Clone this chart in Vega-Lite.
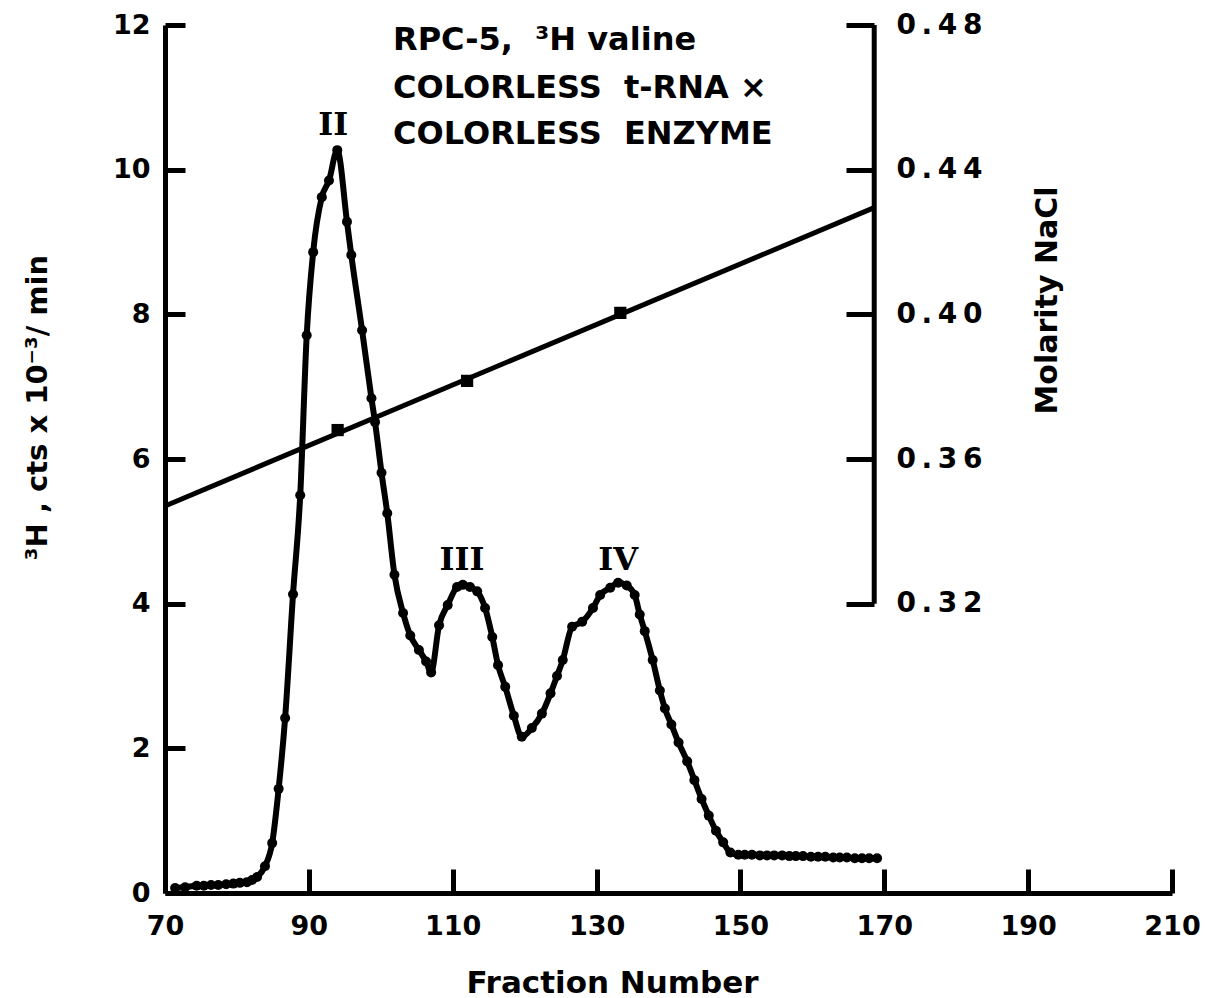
{
  "$schema": "https://vega.github.io/schema/vega-lite/v6.json",
  "width": 1007,
  "height": 868,
  "autosize": {"type": "none"},
  "padding": {"left": 165, "top": 25, "right": 33, "bottom": 105},
  "background": "white",
  "config": {
    "view": {"stroke": null},
    "axis": {
      "domainColor": "black", "domainWidth": 5, "tickColor": "black", "tickWidth": 5,
      "labelColor": "black", "labelFont": "DejaVu Sans", "labelFontWeight": "bold", "labelFontSize": 27,
      "titleColor": "black", "titleFont": "DejaVu Sans", "titleFontWeight": "bold", "titleFontSize": 30,
      "grid": false, "labelOverlap": false, "labelFlush": false
    }
  },
  "datasets": {
    "counts": [
      {"f": 71.4, "L": 0.07}, {"f": 72.8, "L": 0.08}, {"f": 74.4, "L": 0.1}, {"f": 75.4, "L": 0.1},
      {"f": 76.4, "L": 0.11}, {"f": 77.4, "L": 0.11}, {"f": 78.5, "L": 0.12}, {"f": 79.5, "L": 0.13},
      {"f": 80.4, "L": 0.14}, {"f": 81.4, "L": 0.15}, {"f": 82.1, "L": 0.18}, {"f": 82.8, "L": 0.22},
      {"f": 83.9, "L": 0.37}, {"f": 84.9, "L": 0.69}, {"f": 85.8, "L": 1.44}, {"f": 86.7, "L": 2.42},
      {"f": 87.8, "L": 4.13}, {"f": 88.8, "L": 5.5}, {"f": 89.7, "L": 7.71}, {"f": 90.6, "L": 8.86},
      {"f": 91.8, "L": 9.62}, {"f": 92.8, "L": 9.85}, {"f": 93.95, "L": 10.27}, {"f": 95.3, "L": 9.28},
      {"f": 95.9, "L": 8.82}, {"f": 97.4, "L": 7.78}, {"f": 98.7, "L": 6.84}, {"f": 99.2, "L": 6.51},
      {"f": 100.1, "L": 5.81}, {"f": 100.9, "L": 5.25}, {"f": 101.9, "L": 4.4}, {"f": 103.1, "L": 3.87},
      {"f": 104.1, "L": 3.56}, {"f": 105.3, "L": 3.36}, {"f": 106.3, "L": 3.2}, {"f": 107.0, "L": 3.05},
      {"f": 108.1, "L": 3.7}, {"f": 109.3, "L": 3.98}, {"f": 110.6, "L": 4.23}, {"f": 111.4, "L": 4.26},
      {"f": 112.4, "L": 4.23}, {"f": 113.4, "L": 4.17}, {"f": 114.5, "L": 3.94}, {"f": 115.5, "L": 3.54},
      {"f": 116.3, "L": 3.15}, {"f": 117.3, "L": 2.85}, {"f": 118.5, "L": 2.45}, {"f": 119.6, "L": 2.16},
      {"f": 121.0, "L": 2.28}, {"f": 122.4, "L": 2.48}, {"f": 123.6, "L": 2.76}, {"f": 124.5, "L": 3.0},
      {"f": 125.3, "L": 3.22}, {"f": 126.6, "L": 3.68}, {"f": 128.0, "L": 3.75}, {"f": 129.5, "L": 3.94},
      {"f": 130.5, "L": 4.12}, {"f": 131.9, "L": 4.22}, {"f": 133.0, "L": 4.29}, {"f": 134.2, "L": 4.25},
      {"f": 135.3, "L": 4.12}, {"f": 136.0, "L": 3.85}, {"f": 136.7, "L": 3.62}, {"f": 137.8, "L": 3.22},
      {"f": 138.8, "L": 2.8}, {"f": 139.5, "L": 2.55}, {"f": 140.4, "L": 2.33}, {"f": 141.4, "L": 2.08},
      {"f": 142.6, "L": 1.82}, {"f": 143.6, "L": 1.56}, {"f": 144.6, "L": 1.3}, {"f": 145.6, "L": 1.07},
      {"f": 146.6, "L": 0.86}, {"f": 147.6, "L": 0.7}, {"f": 148.6, "L": 0.56},
      {"f": 149.7, "L": 0.53}, {"f": 150.6, "L": 0.53}, {"f": 151.6, "L": 0.53}, {"f": 152.7, "L": 0.52},
      {"f": 153.7, "L": 0.52}, {"f": 154.7, "L": 0.52}, {"f": 155.8, "L": 0.52}, {"f": 156.8, "L": 0.51},
      {"f": 157.7, "L": 0.51}, {"f": 158.7, "L": 0.51}, {"f": 159.8, "L": 0.5}, {"f": 160.8, "L": 0.5},
      {"f": 161.8, "L": 0.5}, {"f": 162.9, "L": 0.49}, {"f": 163.8, "L": 0.49}, {"f": 164.8, "L": 0.49},
      {"f": 165.9, "L": 0.48}, {"f": 166.9, "L": 0.48}, {"f": 167.9, "L": 0.48}, {"f": 169.0, "L": 0.48}
    ],
    "molarity": [{"f": 70, "M": 0.347}, {"f": 168.6, "M": 0.4295}],
    "markers": [{"f": 94, "M": 0.368}, {"f": 112, "M": 0.3816}, {"f": 133.3, "M": 0.4004}],
    "naclAxis": [{"f": 168.6, "M": 0.32, "M2": 0.48}],
    "notes": [
      {"f": 101.7, "L": 11.79, "t": "RPC-5,\u00a0\u00a0³H valine"},
      {"f": 101.7, "L": 11.13, "t": "COLORLESS\u00a0\u00a0t-RNA ×"},
      {"f": 101.7, "L": 10.49, "t": "COLORLESS\u00a0\u00a0ENZYME"}
    ],
    "peaks": [
      {"f": 93.4, "L": 10.62, "t": "II"},
      {"f": 111.3, "L": 4.6, "t": "III"},
      {"f": 133.0, "L": 4.6, "t": "IV"}
    ]
  },
  "layer": [
    {
      "layer": [
        {
          "data": {"name": "counts"},
          "mark": {"type": "line", "interpolate": "monotone", "color": "black", "strokeWidth": 6},
          "encoding": {
            "x": {"field": "f", "type": "quantitative", "scale": {"domain": [70, 210], "nice": false, "zero": false},
              "axis": {"values": [70, 90, 110, 130, 150, 170, 190, 210], "tickSize": -24, "labelPadding": 44,
                "title": "Fraction Number", "titleX": 447, "titleY": 99, "titleBaseline": "alphabetic", "titleAlign": "center", "titleFontSize": 31}},
            "y": {"field": "L", "type": "quantitative", "scale": {"domain": [0, 12], "nice": false},
              "axis": {"orient": "left", "values": [0, 2, 4, 6, 8, 10, 12], "format": "d", "tickSize": -20, "labelPadding": 35,
                "title": "³H , cts x 10⁻³/ min", "titleAngle": -90, "titleX": -128, "titleY": 382,
                "titleAlign": "center", "titleBaseline": "middle", "titleFontSize": 29}}
          }
        },
        {
          "data": {"name": "counts"},
          "mark": {"type": "circle", "color": "black", "opacity": 1, "size": 100},
          "encoding": {"x": {"field": "f", "type": "quantitative"}, "y": {"field": "L", "type": "quantitative"}}
        },
        {
          "data": {"name": "notes"},
          "mark": {"type": "text", "align": "left", "baseline": "middle", "font": "DejaVu Sans", "fontWeight": "bold", "fontSize": 32, "color": "black"},
          "encoding": {"x": {"field": "f", "type": "quantitative"}, "y": {"field": "L", "type": "quantitative"}, "text": {"field": "t"}}
        },
        {
          "data": {"name": "peaks"},
          "mark": {"type": "text", "align": "center", "baseline": "middle", "font": "DejaVu Serif", "fontWeight": "bold", "fontSize": 32, "color": "black"},
          "encoding": {"x": {"field": "f", "type": "quantitative"}, "y": {"field": "L", "type": "quantitative"}, "text": {"field": "t"}}
        }
      ]
    },
    {
      "layer": [
        {
          "data": {"name": "molarity"},
          "mark": {"type": "line", "color": "black", "strokeWidth": 5},
          "encoding": {
            "x": {"field": "f", "type": "quantitative"},
            "y": {"field": "M", "type": "quantitative", "scale": {"domain": [0.24, 0.48], "nice": false, "zero": false},
              "axis": {"orient": "right", "offset": -298, "domain": false, "values": [0.32, 0.36, 0.40, 0.44, 0.48], "format": ".2f",
                "labelExpr": "join(split(datum.label, ''), '\u2009')",
                "tickSize": -28, "labelPadding": 50, "labelFontSize": 28,
                "title": "Molarity NaCl", "titleAngle": -90, "titleX": 173, "titleY": 275, "titleAlign": "center", "titleBaseline": "middle", "titleFontSize": 30}}
          }
        },
        {
          "data": {"name": "markers"},
          "mark": {"type": "square", "color": "black", "opacity": 1, "size": 150},
          "encoding": {"x": {"field": "f", "type": "quantitative"}, "y": {"field": "M", "type": "quantitative"}}
        },
        {
          "data": {"name": "naclAxis"},
          "mark": {"type": "rule", "color": "black", "strokeWidth": 5},
          "encoding": {"x": {"field": "f", "type": "quantitative"}, "y": {"field": "M", "type": "quantitative"}, "y2": {"field": "M2"}}
        }
      ]
    }
  ],
  "resolve": {"scale": {"y": "independent"}}
}
